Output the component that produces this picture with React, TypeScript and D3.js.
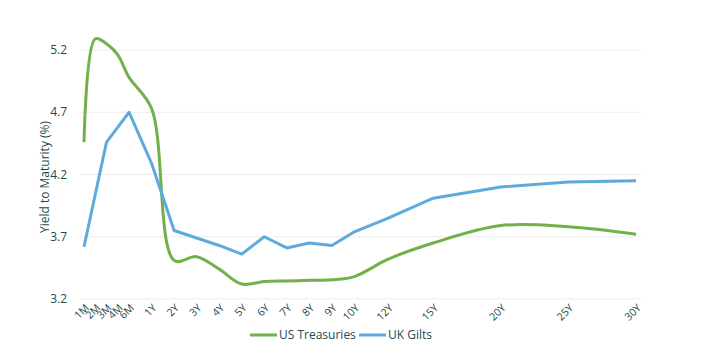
import React from "react";
import * as d3 from "d3";

const categories = ["1M","2M","3M","4M","6M","1Y","2Y","3Y","4Y","5Y","6Y","7Y","8Y","9Y","10Y","12Y","15Y","20Y","25Y","30Y"];
// position of each maturity along the axis (axis units)
const axisPos = [0, 0.5, 1, 1.5, 2, 3, 4, 5, 6, 7, 8, 9, 10, 11, 12, 13.5, 15.5, 18.5, 21.5, 24.5];
const usTreasuries = [4.46, 5.29, 5.25, 5.16, 4.98, 4.73, 3.51, 3.54, 3.44, 3.32, 3.34, 3.345, 3.35, 3.355, 3.38, 3.52, 3.65, 3.79, 3.78, 3.72];
const ukGilts: (number | null)[] = [3.62, null, 4.46, null, 4.70, 4.29, 3.75, 3.69, 3.63, 3.56, 3.70, 3.61, 3.65, 3.63, 3.74, 3.85, 4.01, 4.10, 4.14, 4.15];
const yTicks = [3.2, 3.7, 4.2, 4.7, 5.2];

const GREEN = "#72b04a";
const BLUE = "#5eaadd";
const TEXT = "#1c4a52";
const FONT = "'Open Sans', 'Noto Sans', sans-serif";

export default function App() {
  const W = 720, H = 356;
  const x = d3.scaleLinear().domain([0, 24.5]).range([84, 636]);
  const y = d3.scaleLinear().domain([3.2, 5.2]).range([299, 50]);

  const usPts = categories.map((c, i) => [axisPos[i], usTreasuries[i]] as [number, number]);
  const ukPts = categories
    .map((c, i) => [axisPos[i], ukGilts[i]] as [number, number | null])
    .filter((d) => d[1] !== null) as [number, number][];

  const usLine = d3.line<[number, number]>()
    .x((d) => x(d[0]))
    .y((d) => y(d[1]))
    .curve(d3.curveCatmullRom.alpha(0.5));
  const ukLine = d3.line<[number, number]>()
    .x((d) => x(d[0]))
    .y((d) => y(d[1]));

  return (
    <svg width={W} height={H} style={{ position: "absolute", left: 0, top: 0 }} fontFamily={FONT}>
      <rect width={W} height={H} fill="#fff" />
      {yTicks.map((t) => (
        <g key={t}>
          <line x1={80} x2={641} y1={y(t)} y2={y(t)} stroke="#ececec" strokeWidth={1} />
          <text x={67} y={y(t)} dy="0.35em" textAnchor="end" fontSize={12} fill={TEXT}>
            {t.toFixed(1)}
          </text>
        </g>
      ))}
      <text
        transform={`translate(49,177) rotate(-90)`}
        textAnchor="middle"
        fontSize={12}
        fill={TEXT}
      >
        Yield to Maturity (%)
      </text>
      {categories.map((c, i) => (
        <text
          key={c}
          transform={`translate(${x(axisPos[i]) + 3},${306}) rotate(-45)`}
          textAnchor="end"
          dy="0.35em"
          fontSize={10.5}
          fill={TEXT}
        >
          {c}
        </text>
      ))}
      <path d={usLine(usPts) || ""} fill="none" stroke={GREEN} strokeWidth={3} strokeLinejoin="round" />
      <path d={ukLine(ukPts) || ""} fill="none" stroke={BLUE} strokeWidth={3} strokeLinejoin="round" />
      <g fontSize={12} fill={TEXT}>
        <line x1={250} x2={277} y1={335} y2={335} stroke={GREEN} strokeWidth={3} />
        <text x={279} y={335} dy="0.35em">US Treasuries</text>
        <line x1={359} x2={386} y1={335} y2={335} stroke={BLUE} strokeWidth={3} />
        <text x={388} y={335} dy="0.35em">UK Gilts</text>
      </g>
    </svg>
  );
}
